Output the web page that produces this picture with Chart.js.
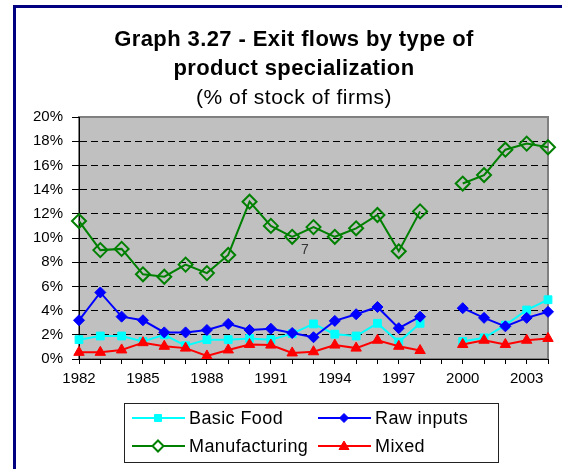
<!DOCTYPE html>
<html>
<head>
<meta charset="utf-8">
<script src="https://cdn.jsdelivr.net/npm/chart.js@4/dist/chart.umd.min.js"></script>
<style>
  html, body { margin: 0; padding: 0; background: #fff; }
  #wrap { width: 562px; height: 469px; }
</style>
</head>
<body>
<div id="wrap"><canvas id="graph" width="562" height="469"></canvas></div>
<script>
// Years on the x axis (1999 has no data, the lines break there)
const years = ["1982", "1983", "1984", "1985", "1986", "1987", "1988", "1989", "1990", "1991", "1992",
  "1993", "1994", "1995", "1996", "1997", "1998", "1999", "2000", "2001", "2002", "2003", "2004"];

// Exit flows, % of stock of firms
const basicFood = [1.6, 1.9, 1.9, 1.45, 2.0, 1.1, 1.6, 1.6, 1.7, 1.6, 2.1,
  2.9, 2.05, 1.9, 2.95, 1.4, 2.95, null, 1.45, 1.75, 2.8, 4.05, 4.9];
const rawInputs = [3.2, 5.5, 3.5, 3.2, 2.2, 2.2, 2.4, 2.9, 2.4, 2.5, 2.15,
  1.8, 3.15, 3.7, 4.3, 2.55, 3.5, null, 4.2, 3.4, 2.7, 3.4, 3.9];
const manufacturing = [11.4, 9.0, 9.1, 7.0, 6.8, 7.8, 7.1, 8.6, 13.0, 11.0, 10.1,
  10.9, 10.1, 10.8, 11.9, 8.9, 12.2, null, 14.5, 15.2, 17.3, 17.8, 17.5];
const mixed = [0.55, 0.55, 0.75, 1.35, 1.05, 0.9, 0.25, 0.75, 1.2, 1.15, 0.5,
  0.6, 1.15, 0.9, 1.55, 1.05, 0.7, null, 1.2, 1.55, 1.2, 1.55, 1.7];

const titleLines = ["Graph 3.27 - Exit flows by type of", "product specialization"];
const subtitleText = "(% of stock of firms)";
// the stray "7" that sits inside the plot of the original
const strayLabel = { text: "7", index: 10.6, value: 9.0 };

const FONT = '"Liberation Sans", Arial, sans-serif';

// draws one marker shape, used for the legend samples
function draw_marker(ctx, style, x, y, r, fill, stroke, lw) {
  ctx.beginPath();
  if (style === "rect") {
    ctx.rect(x - r, y - r, 2 * r, 2 * r);
  } else if (style === "rectRot") {
    ctx.moveTo(x, y - r); ctx.lineTo(x + r, y); ctx.lineTo(x, y + r); ctx.lineTo(x - r, y);
    ctx.closePath();
  } else {
    ctx.moveTo(x, y - r); ctx.lineTo(x + r, y + r * 0.7); ctx.lineTo(x - r, y + r * 0.7);
    ctx.closePath();
  }
  if (fill) { ctx.fillStyle = fill; ctx.fill(); }
  if (stroke) { ctx.strokeStyle = stroke; ctx.lineWidth = lw; ctx.stroke(); }
}

// background, navy frame and the grey plot area
const backPlugin = {
  id: "backPlugin",
  beforeDraw(chart) {
    const { ctx, chartArea: a } = chart;
    ctx.save();
    ctx.fillStyle = "#ffffff";
    ctx.fillRect(0, 0, chart.width, chart.height);
    ctx.fillStyle = "#000080";
    ctx.fillRect(13, 5, 3, chart.height - 5);
    ctx.fillRect(13, 5, chart.width - 13, 3);
    ctx.fillStyle = "#c0c0c0";
    ctx.fillRect(a.left, a.top, a.right - a.left, a.bottom - a.top);
    ctx.strokeStyle = "#808080";
    ctx.lineWidth = 2;
    ctx.strokeRect(a.left, a.top, a.right - a.left, a.bottom - a.top);
    ctx.restore();
  }
};

// title, subtitle, legend box and the stray label
const textPlugin = {
  id: "textPlugin",
  afterDraw(chart) {
    const ctx = chart.ctx;
    ctx.save();
    ctx.fillStyle = "#000";
    ctx.textAlign = "center";
    ctx.textBaseline = "middle";
    ctx.letterSpacing = "0.4px";
    ctx.font = "bold 22px " + FONT;
    ctx.fillText(titleLines[0], 294, 40);
    ctx.fillText(titleLines[1], 294, 69);
    ctx.letterSpacing = "0.5px";
    ctx.font = "21px " + FONT;
    ctx.fillText(subtitleText, 294, 98);

    // legend
    ctx.strokeStyle = "#222";
    ctx.lineWidth = 1;
    ctx.strokeRect(124.5, 403.5, 374, 59);
    const cols = [132, 318];
    const rows = [418, 446];
    ctx.textAlign = "left";
    ctx.letterSpacing = "0.4px";
    ctx.font = "18px " + FONT;
    chart.data.datasets.forEach((ds, i) => {
      const x = cols[i % 2];
      const y = rows[Math.floor(i / 2)];
      ctx.strokeStyle = ds.borderColor;
      ctx.lineWidth = 2;
      ctx.beginPath();
      ctx.moveTo(x, y); ctx.lineTo(x + 53, y);
      ctx.stroke();
      const hollow = ds.pointBackgroundColor === "transparent";
      draw_marker(ctx, ds.pointStyle, x + 26, y, ds.legendSize,
        hollow ? "#ffffff" : ds.pointBackgroundColor, ds.borderColor, hollow ? 2 : 1);
      ctx.fillStyle = "#000";
      ctx.fillText(ds.label, x + 57, y + 1);
    });

    // stray label
    const xs = chart.scales.x, ys = chart.scales.y;
    ctx.letterSpacing = "0px";
    ctx.font = "14px " + FONT;
    ctx.fillStyle = "#333";
    ctx.textAlign = "center";
    ctx.fillText(strayLabel.text, xs.getPixelForValue(strayLabel.index), ys.getPixelForValue(strayLabel.value));
    ctx.restore();
  }
};

// order: the later series are painted on top, like the original
function make_dataset(label, data, color, style, radius, legendSize, hollow, order) {
  return {
    label: label,
    data: data,
    order: order,
    borderColor: color,
    backgroundColor: color,
    borderWidth: 2,
    pointStyle: style,
    pointRadius: radius,
    pointHoverRadius: radius,
    pointBackgroundColor: hollow ? "transparent" : color,
    pointBorderColor: color,
    pointBorderWidth: hollow ? 2 : 1,
    legendSize: legendSize,
    tension: 0,
    spanGaps: false
  };
}

const chart = new Chart(document.getElementById("graph").getContext("2d"), {
  type: "line",
  data: {
    labels: years,
    datasets: [
      make_dataset("Basic Food", basicFood, "#00ffff", "rect", 5.5, 3.5, false, 4),
      make_dataset("Raw inputs", rawInputs, "#0000ff", "rectRot", 5.5, 4.5, false, 3),
      make_dataset("Manufacturing", manufacturing, "#008000", "rectRot", 7, 5.5, true, 2),
      make_dataset("Mixed", mixed, "#ff0000", "triangle", 6, 5, false, 1)
    ]
  },
  options: {
    responsive: false,
    animation: false,
    devicePixelRatio: 1,
    layout: { padding: { left: 0, right: 14, top: 117, bottom: 80 } },
    plugins: {
      legend: { display: false },
      title: { display: false },
      tooltip: { enabled: false }
    },
    scales: {
      x: {
        offset: false,
        afterFit: (scale) => { scale.height = 30; },
        grid: { drawOnChartArea: false, drawTicks: true, tickLength: 5, tickColor: "#000", color: "#000" },
        border: { color: "#000", width: 1 },
        ticks: {
          autoSkip: false,
          maxRotation: 0,
          padding: 6,
          color: "#000",
          font: { family: FONT, size: 15 },
          callback: (val, i) => (i % 3 === 0 ? years[i] : "")
        }
      },
      y: {
        min: 0,
        max: 20,
        afterFit: (scale) => { scale.width = 79; },
        grid: {
          color: (c) => (c.tick && (c.tick.value === 0 || c.tick.value === 20) ? "rgba(0,0,0,0)" : "#000"),
          tickColor: "#000",
          tickLength: 7,
          tickBorderDash: []
        },
        border: { color: "#000", width: 1, dash: [7, 4] },
        ticks: {
          stepSize: 2,
          padding: 9,
          color: "#000",
          font: { family: FONT, size: 15 },
          callback: (v) => v + "%"
        }
      }
    }
  },
  plugins: [backPlugin, textPlugin]
});
</script>
</body>
</html>
